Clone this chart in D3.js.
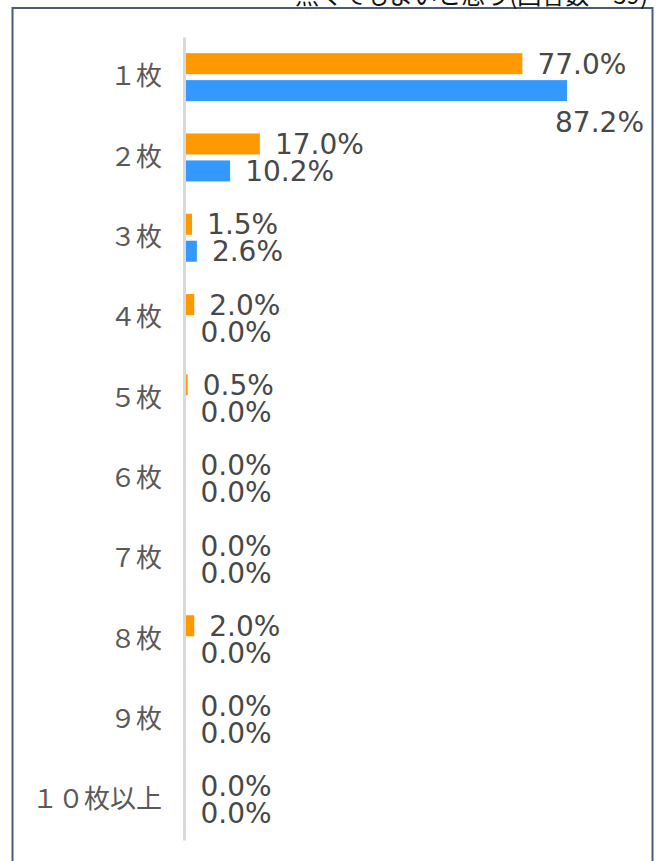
<!DOCTYPE html>
<html>
<head>
<meta charset="utf-8">
<script src="https://cdn.jsdelivr.net/npm/d3@7"></script>
<style>
  body { margin: 0; background: #fff; }
</style>
</head>
<body>
<div id="chart"></div>
<script>
const categories = ["１枚", "２枚", "３枚", "４枚", "５枚", "６枚", "７枚", "８枚", "９枚", "１０枚以上"];
const seriesNames = ["orange", "blue"];
const orangeValues = [77.0, 17.0, 1.5, 2.0, 0.5, 0.0, 0.0, 2.0, 0.0, 0.0];
const blueValues = [87.2, 10.2, 2.6, 0.0, 0.0, 0.0, 0.0, 0.0, 0.0, 0.0];
const legendText = "無くてもよいと思う(回答数＝39)";

const W = 656, H = 861;
const colors = { orange: "#FF9900", blue: "#3399FF" };

const svg = d3.select("#chart").append("svg")
    .attr("width", W)
    .attr("height", H);

// frame (bottom runs off the picture)
svg.append("rect")
    .attr("x", 12.5).attr("y", 8)
    .attr("width", 640).attr("height", 900)
    .attr("fill", "#fff")
    .attr("stroke", "#4a5a78")
    .attr("stroke-width", 2);

// cut-off legend text at top
svg.append("text")
    .attr("x", 648).attr("y", 4)
    .attr("text-anchor", "end")
    .attr("font-family", "'Noto Sans CJK JP', sans-serif")
    .attr("font-size", 24)
    .attr("fill", "#111")
    .text(legendText);

const x = d3.scaleLinear().domain([0, 100]).range([185.5, 623]);
const y = d3.scaleBand().domain(categories).range([37, 840]);
const ySub = d3.scaleBand().domain(seriesNames).range([0, y.bandwidth()])
    .paddingInner(0.22).paddingOuter(0.6);

const rows = categories.map((c, i) => ({
    cat: c,
    vals: [
        { key: "orange", v: orangeValues[i] },
        { key: "blue", v: blueValues[i] }
    ]
}));

const g = svg.append("g");

const row = g.selectAll(".row").data(rows).join("g")
    .attr("class", "row")
    .attr("transform", d => `translate(0,${y(d.cat)})`);

row.selectAll("rect").data(d => d.vals).join("rect")
    .attr("x", x(0))
    .attr("y", d => ySub(d.key))
    .attr("width", d => x(d.v) - x(0))
    .attr("height", ySub.bandwidth())
    .attr("fill", d => colors[d.key]);

// value labels
const labelFont = "'DejaVu Sans', sans-serif";
const rightLimit = 640;
row.selectAll("text.val").data(d => d.vals).join("text")
    .attr("class", "val")
    .attr("font-family", labelFont)
    .attr("font-size", 28)
    .attr("fill", "#484848")
    .attr("dy", "0.36em")
    .text(d => d3.format(".1f")(d.v) + "%")
    .each(function(d) {
        const t = d3.select(this);
        const tx = x(d.v) + 15;
        const w = this.getComputedTextLength();
        const cy = ySub(d.key) + ySub.bandwidth() / 2;
        if (tx + w > rightLimit) {
            // does not fit: move under the bar, flush right
            t.attr("x", rightLimit + 4).attr("y", cy + 31).attr("text-anchor", "end");
        } else {
            t.attr("x", tx).attr("y", cy).attr("text-anchor", "start");
        }
    });

// category axis
const axis = svg.append("g")
    .attr("transform", `translate(${x(0) - 1.5},0)`)
    .call(d3.axisLeft(y).tickSize(0).tickPadding(22));
axis.select(".domain")
    .attr("stroke", "#d9d9d9")
    .attr("stroke-width", 3);
axis.selectAll(".tick text")
    .attr("font-family", "'Noto Sans CJK JP', sans-serif")
    .attr("font-size", 26)
    .attr("fill", "#595959");
</script>
</body>
</html>
